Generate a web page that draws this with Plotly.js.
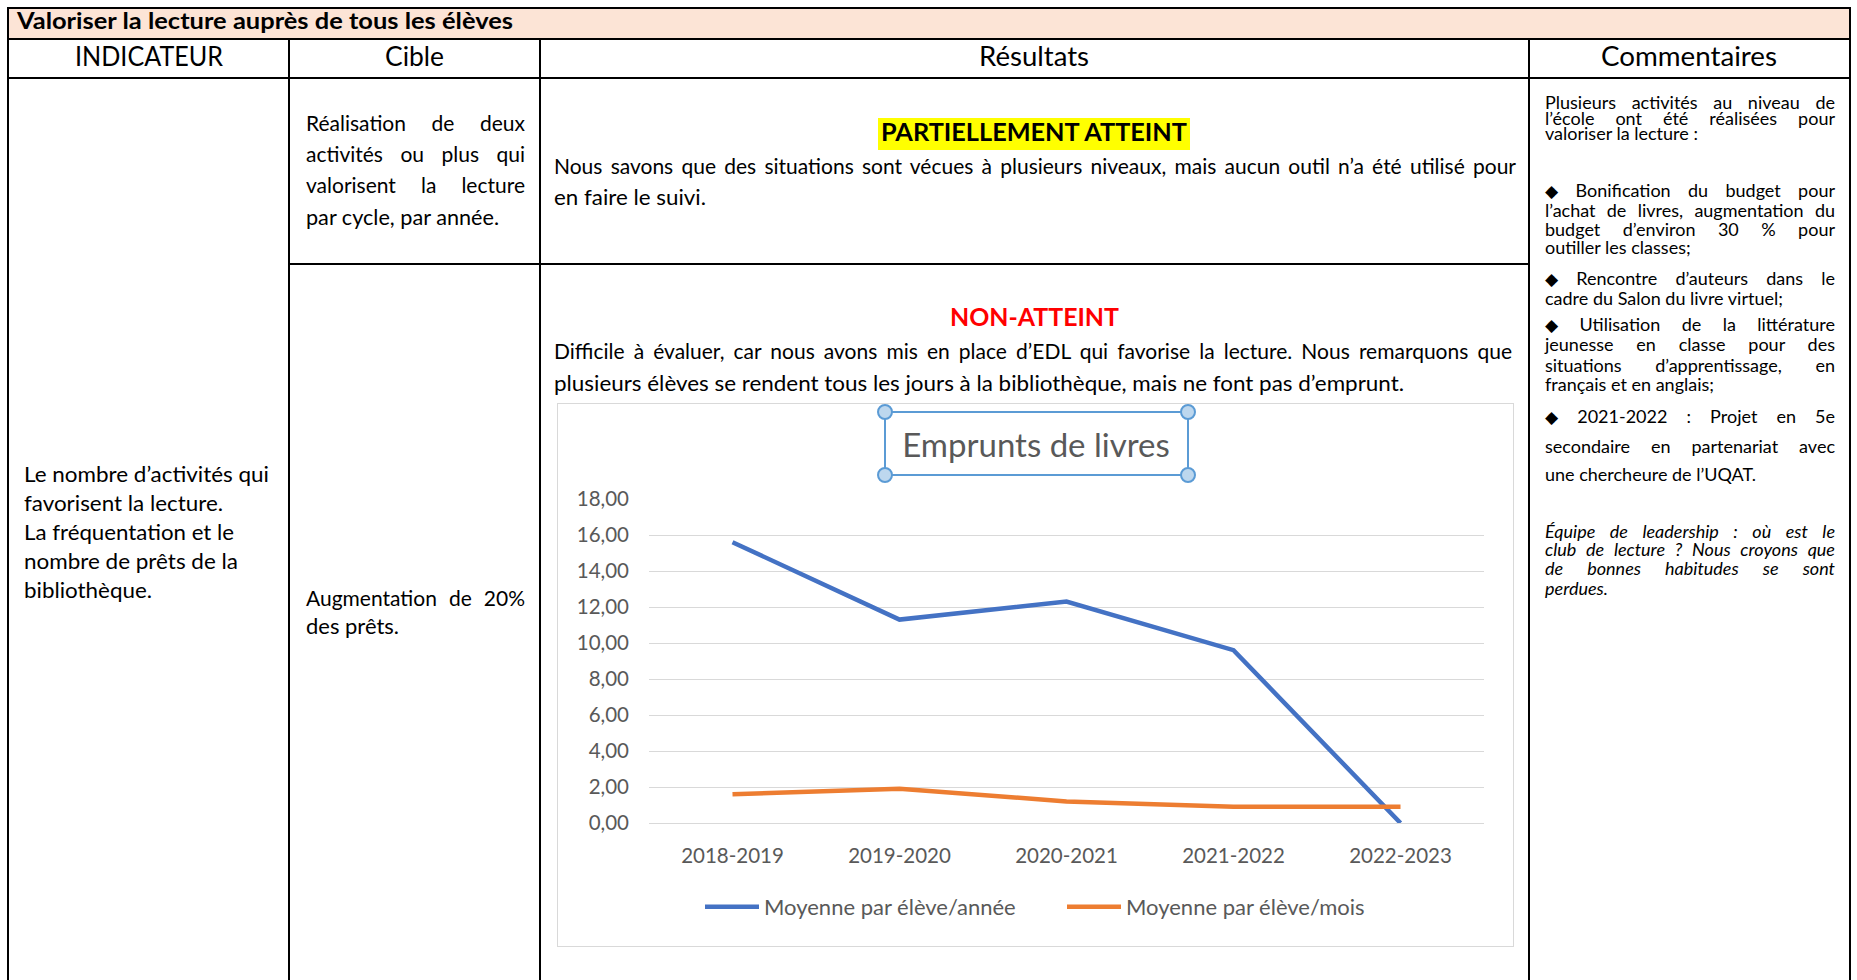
<!DOCTYPE html>
<html><head><meta charset="utf-8">
<script src="https://cdn.plot.ly/plotly-3.0.1.min.js"></script>
<style>
html,body{margin:0;padding:0;background:#fff;width:1857px;height:980px;overflow:hidden;}
#page{position:relative;width:1857px;height:980px;font-family:Lato,"Open Sans",sans-serif;color:#000;}
.ln{position:absolute;background:#000;}
.t{position:absolute;white-space:pre;line-height:1;transform-origin:0 50%;}
.dm{font-family:"DejaVu Sans",sans-serif;font-size:0.95em;}
#chartbox{position:absolute;left:557px;top:403px;width:957px;height:544px;border:1px solid #d9d9d9;box-sizing:border-box;background:#fff;}
#chart{position:absolute;left:558px;top:404px;width:955px;height:542px;}
</style></head>
<body>
<div id="page">
  <div id="chartbox"></div>
  <div id="chart"></div>
</div>
<script>
// ---- chart data ----
const years = ['2018-2019', '2019-2020', '2020-2021', '2021-2022', '2022-2023'];
const moyenneParEleveAnnee = [15.6, 11.3, 12.3, 9.6, 0];
const moyenneParEleveMois = [1.6, 1.9, 1.2, 0.9, 0.9];
const seriesNames = ['Moyenne par élève/année', 'Moyenne par élève/mois'];
const yTickValues = [0, 2, 4, 6, 8, 10, 12, 14, 16, 18];
const chartTitle = 'Emprunts de livres';

// ---- page table ----
const page = document.getElementById('page');
function box(x, y, w, h, color) {
  const d = document.createElement('div');
  d.className = 'ln';
  d.style.left = x + 'px'; d.style.top = y + 'px';
  d.style.width = w + 'px'; d.style.height = h + 'px';
  d.style.background = color || '#000';
  page.appendChild(d);
}
box(9, 9, 1840, 30, '#FCE4D6');   // title row background
box(878, 118, 312, 32, '#FFFF00'); // highlight
box(7, 7, 1844, 2);
box(7, 38, 1844, 2);
box(7, 77, 1844, 2);
box(7, 7, 2, 980);
box(1849, 7, 2, 980);
box(288, 38, 2, 950);
box(539, 38, 2, 950);
box(1528, 38, 2, 950);
box(288, 263, 1242, 2);

function txt(o) {
  const s = document.createElement('span');
  s.className = 't';
  if (o.t.startsWith('♦')) {
    const d = document.createElement('span');
    d.className = 'dm';
    d.textContent = '◆';
    s.appendChild(d);
    s.appendChild(document.createTextNode(o.t.slice(1)));
  } else {
    s.textContent = o.t;
  }
  s.style.fontSize = o.s + 'px';
  if (o.lh) s.style.lineHeight = o.lh;
  if (o.b) s.style.fontWeight = '700';
  if (o.i) s.style.fontStyle = 'italic';
  if (o.c) s.style.color = o.c;
  page.appendChild(s);
  const w = s.getBoundingClientRect().width;
  const h = s.getBoundingClientRect().height;
  let sx = 1;
  if (o.j && o.W) {
    const n = (o.t.match(/ /g) || []).length;
    if (w < o.W && n > 0) s.style.wordSpacing = ((o.W - w) / n) + 'px';
    else if (w > o.W) sx = o.W / w;
  } else if (o.W) {
    sx = o.W / w;
  }
  const width = o.W || w;
  const left = (o.cx !== undefined) ? o.cx - width / 2 : o.x;
  s.style.left = left + 'px';
  s.style.top = (o.y - 0.58 * o.s - (h - o.s) / 2) + 'px';
  if (sx !== 1) s.style.transform = 'scaleX(' + sx + ')';
}

const CS = 18, CLH = 0.8;
const lines = [
  {t:'Valoriser la lecture auprès de tous les élèves', x:17, y:23, s:22, b:1, W:496},
  {t:'INDICATEUR', cx:149, y:58, s:26, W:148},
  {t:'Cible', cx:414, y:58, s:26, W:59},
  {t:'Résultats', cx:1034, y:58, s:26, W:110},
  {t:'Commentaires', cx:1689, y:58, s:26, W:176},
  {t:'Le nombre d’activités qui', x:24, y:475, s:21, W:245},
  {t:'favorisent la lecture.', x:24, y:504, s:21, W:199},
  {t:'La fréquentation et le', x:24, y:533, s:21, W:210},
  {t:'nombre de prêts de la', x:24, y:562, s:21, W:214},
  {t:'bibliothèque.', x:24, y:591, s:21, W:128},
  {t:'Réalisation de deux', x:306, y:124, s:21, j:1, W:219},
  {t:'activités ou plus qui', x:306, y:155, s:21, j:1, W:219},
  {t:'valorisent la lecture', x:306, y:186, s:21, j:1, W:219},
  {t:'par cycle, par année.', x:306, y:218, s:21, W:193},
  {t:'Augmentation de 20%', x:306, y:599, s:21, j:1, W:219},
  {t:'des prêts.', x:306, y:627, s:21, W:93},
  {t:'PARTIELLEMENT ATTEINT', cx:1034, y:134, s:24, b:1, W:306},
  {t:'Nous savons que des situations sont vécues à plusieurs niveaux, mais aucun outil n’a été utilisé pour', x:554, y:167, s:21, j:1, W:962},
  {t:'en faire le suivi.', x:554, y:198, s:21, W:152},
  {t:'NON-ATTEINT', cx:1034, y:319, s:24, b:1, c:'#FF0000', W:169},
  {t:'Difficile à évaluer, car nous avons mis en place d’EDL qui favorise la lecture. Nous remarquons que', x:554, y:352, s:21, j:1, W:958},
  {t:'plusieurs élèves se rendent tous les jours à la bibliothèque, mais ne font pas d’emprunt.', x:554, y:384, s:21, W:850},
  {t:'Plusieurs activités au niveau de', x:1545, y:104, s:CS, lh:CLH, j:1, W:290},
  {t:'l’école ont été réalisées pour', x:1545, y:120, s:CS, lh:CLH, j:1, W:290},
  {t:'valoriser la lecture :', x:1545, y:135, s:CS, lh:CLH},
  {t:'♦ Bonification du budget pour', x:1545, y:192, s:CS, lh:CLH, j:1, W:290},
  {t:'l’achat de livres, augmentation du', x:1545, y:212, s:CS, lh:CLH, j:1, W:290},
  {t:'budget d’environ 30 % pour', x:1545, y:231, s:CS, lh:CLH, j:1, W:290},
  {t:'outiller les classes;', x:1545, y:249, s:CS, lh:CLH},
  {t:'♦ Rencontre d’auteurs dans le', x:1545, y:280, s:CS, lh:CLH, j:1, W:290},
  {t:'cadre du Salon du livre virtuel;', x:1545, y:300, s:CS, lh:CLH},
  {t:'♦ Utilisation de la littérature', x:1545, y:326, s:CS, lh:CLH, j:1, W:290},
  {t:'jeunesse en classe pour des', x:1545, y:346, s:CS, lh:CLH, j:1, W:290},
  {t:'situations d’apprentissage, en', x:1545, y:367, s:CS, lh:CLH, j:1, W:290},
  {t:'français et en anglais;', x:1545, y:386, s:CS, lh:CLH},
  {t:'♦ 2021-2022 : Projet en 5e', x:1545, y:418, s:CS, lh:CLH, j:1, W:290},
  {t:'secondaire en partenariat avec', x:1545, y:448, s:CS, lh:CLH, j:1, W:290},
  {t:'une chercheure de l’UQAT.', x:1545, y:476, s:CS, lh:CLH},
  {t:'Équipe de leadership : où est le', x:1545, y:533, s:CS, lh:CLH, i:1, j:1, W:290},
  {t:'club de lecture ? Nous croyons que', x:1545, y:551, s:CS, lh:CLH, i:1, j:1, W:290},
  {t:'de bonnes habitudes se sont', x:1545, y:570, s:CS, lh:CLH, i:1, j:1, W:290},
  {t:'perdues.', x:1545, y:590, s:CS, lh:CLH, i:1}
];
lines.forEach(txt);

// ---- chart ----
const W = 955, H = 542, L = 91, R = 29, T = 95, B = 123;
const PW = W - L - R, PH = H - T - B;
const ox = 558, oy = 404;
const px = v => (v - ox - L) / PW;
const py = v => 1 + (T - (v - oy)) / PH;

const sx0 = px(885), sx1 = px(1188), sy0 = py(475), sy1 = py(412);
const selBlue = '#5B9BD5';
const shapes = [{type:'rect', xref:'paper', yref:'paper', x0:sx0, x1:sx1, y0:sy0, y1:sy1,
  line:{color:selBlue, width:2}, fillcolor:'rgba(0,0,0,0)', layer:'above'}];
[[sx0, sy0], [sx1, sy0], [sx0, sy1], [sx1, sy1]].forEach(([cx, cy]) => {
  shapes.push({type:'circle', xref:'paper', yref:'paper', xsizemode:'pixel', ysizemode:'pixel',
    xanchor:cx, yanchor:cy, x0:-7, x1:7, y0:-7, y1:7,
    line:{color:selBlue, width:2}, fillcolor:'#BDD7EE', layer:'above'});
});

const tickFont = {family:'Lato, sans-serif', size:20.5, color:'#595959'};
const traces = [
  {x:years, y:moyenneParEleveAnnee, name:seriesNames[0], type:'scatter', mode:'lines',
   line:{color:'#4472C4', width:4.5}, hoverinfo:'skip'},
  {x:years, y:moyenneParEleveMois, name:seriesNames[1], type:'scatter', mode:'lines',
   line:{color:'#ED7D31', width:4.5}, hoverinfo:'skip'}
];
const layout = {
  width:W, height:H,
  margin:{l:L, r:R, t:T, b:B, pad:0},
  paper_bgcolor:'rgba(0,0,0,0)', plot_bgcolor:'rgba(0,0,0,0)',
  separators:', ',
  font:{family:'Lato, sans-serif', color:'#595959'},
  title:{text:chartTitle, font:{family:'Lato, sans-serif', size:33, color:'#595959'},
    xref:'container', yref:'container', x:(1036 - ox) / W, xanchor:'center',
    y:1 - (445 - oy) / H, yanchor:'middle'},
  xaxis:{type:'category', range:[-0.5, 4.5], showgrid:false, zeroline:false,
    showline:true, linecolor:'#D9D9D9', linewidth:1, ticks:'', tickfont:tickFont,
    ticklabelstandoff:14, fixedrange:true},
  yaxis:{range:[0, 18], tickvals:yTickValues, tickformat:'.2f', showgrid:true,
    gridcolor:'#D9D9D9', gridwidth:1, zeroline:false, showline:false, ticks:'',
    tickfont:tickFont, ticklabelstandoff:19, fixedrange:true},
  showlegend:true,
  legend:{orientation:'h', xref:'container', yref:'container',
    x:(700 - ox) / W, xanchor:'left', y:(oy + H - 907) / H, yanchor:'middle',
    font:{family:'Lato, sans-serif', size:22, color:'#595959'},
    bgcolor:'rgba(0,0,0,0)', traceorder:'normal', itemwidth:54,
    entrywidthmode:'pixels', entrywidth:293},
  shapes:shapes
};
Plotly.newPlot('chart', traces, layout, {staticPlot:true, displayModeBar:false});
</script>
</body></html>
